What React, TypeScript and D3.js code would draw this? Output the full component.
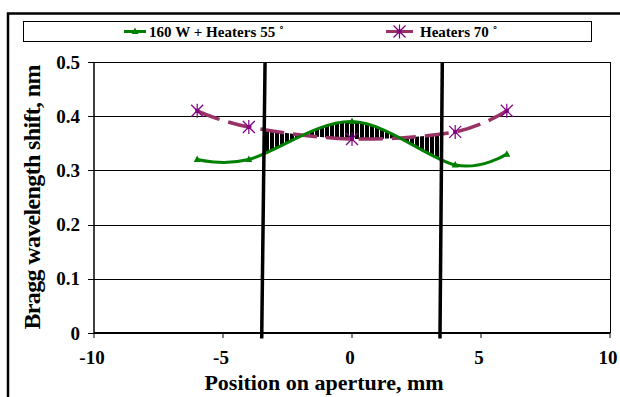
import React from "react";
import * as d3 from "d3";

const positions = [-6, -4, 0, 4, 6];
const green160W = [0.32, 0.32, 0.39, 0.31, 0.33];
const purpleHeaters70 = [0.41, 0.38, 0.358, 0.371, 0.41];
const xTicks = [-10, -5, 0, 5, 10];
const yTicks = [0, 0.1, 0.2, 0.3, 0.4, 0.5];
const apertureLeft = [{ x: -3.5, y: -0.01 }, { x: -3.37, y: 0.5 }];
const apertureRight = [{ x: 3.41, y: -0.01 }, { x: 3.5, y: 0.5 }];
const hatchRange = [-3.45, 3.38];
const seriesNames = ["160 W + Heaters 55 \u02DA", "Heaters 70 \u02DA"];

const W = 620, H = 397;
const PL = 94, PR = 610, PT = 62, PB = 333;
const FONT = "'Liberation Serif', 'Times New Roman', serif";
const GREEN = "#008000";
const PLUM = "#993366";
const MARK = "#800080";

export default function App() {
  const x = d3.scaleLinear().domain([-10, 10]).range([PL, PR]);
  const y = d3.scaleLinear().domain([0, 0.5]).range([PB, PT]);
  const curve = d3.curveCardinal.tension(0);
  const gData = positions.map((p, i) => ({ x: p, y: green160W[i] }));
  const pData = positions.map((p, i) => ({ x: p, y: purpleHeaters70[i] }));
  const line = d3.line<{ x: number; y: number }>().x(d => x(d.x)).y(d => y(d.y)).curve(curve);
  const straight = d3.line<{ x: number; y: number }>().x(d => x(d.x)).y(d => y(d.y));
  const area = d3
    .area<number>()
    .x(d => x(positions[d]))
    .y0(d => y(green160W[d]))
    .y1(d => y(purpleHeaters70[d]))
    .curve(curve);
  const idx = positions.map((_, i) => i);

  const tri = (cx: number, cy: number, key: string) => (
    <path key={key} d={`M${cx},${cy - 4}L${cx + 3.5},${cy + 2.5}L${cx - 3.5},${cy + 2.5}Z`} fill={GREEN} />
  );
  const star = (cx: number, cy: number, key: string) => (
    <g key={key} stroke={MARK} strokeWidth={1.2}>
      <line x1={cx - 6} y1={cy - 6} x2={cx + 6} y2={cy + 6} />
      <line x1={cx - 6} y1={cy + 6} x2={cx + 6} y2={cy - 6} />
      <line x1={cx} y1={cy - 7} x2={cx} y2={cy + 7} />
      <rect x={cx - 2} y={cy - 2} width={4} height={4} fill={MARK} stroke="none" />
    </g>
  );

  return (
    <svg width={W} height={H} style={{ position: "absolute", left: 0, top: 0, background: "#fff" }} fontFamily={FONT} fontWeight="bold">
      <defs>
        <pattern id="stripes" patternUnits="userSpaceOnUse" width={5} height={10}>
          <rect x={0} y={0} width={4} height={10} fill="#000" />
        </pattern>
        <clipPath id="hatchClip">
          <rect x={x(hatchRange[0])} y={PT} width={x(hatchRange[1]) - x(hatchRange[0])} height={PB - PT} />
        </clipPath>
      </defs>
      <rect x={0} y={0} width={W} height={H} fill="#fff" />
      {/* outer frame */}
      <rect x={8} y={13.5} width={W + 10} height={H + 10} fill="none" stroke="#000" strokeWidth={2.5} />
      {/* legend */}
      <rect x={23.5} y={21.5} width={568} height={20} fill="#fff" stroke="#000" strokeWidth={1} />
      <line x1={124} x2={146} y1={31.5} y2={31.5} stroke={GREEN} strokeWidth={3} />
      {tri(135, 31.5, "lt")}
      <text x={149} y={36.5} fontSize={15} textLength={135} lengthAdjust="spacing">{seriesNames[0]}</text>
      <line x1={386} x2={413} y1={31.5} y2={31.5} stroke={PLUM} strokeWidth={3} />
      {star(399.5, 31.5, "ls")}
      <text x={420} y={36.5} fontSize={15}>{seriesNames[1]}</text>

      {/* gridlines */}
      {yTicks.map(t => (
        <line key={"g" + t} x1={PL} x2={PR} y1={Math.round(y(t)) + 0.5} y2={Math.round(y(t)) + 0.5} stroke="#000" strokeWidth={1} />
      ))}
      <line x1={PR + 0.5} x2={PR + 0.5} y1={PT} y2={PB} stroke="#000" strokeWidth={1} />
      {/* y axis */}
      <line x1={PL} x2={PL} y1={PT} y2={PB} stroke="#000" strokeWidth={1.5} />
      {yTicks.map(t => (
        <g key={"yt" + t}>
          <line x1={PL - 6} x2={PL} y1={Math.round(y(t)) + 0.5} y2={Math.round(y(t)) + 0.5} stroke="#000" />
          <text x={80} y={y(t) + 6.5} fontSize={19} textAnchor="end">{t === 0 ? "0" : t.toFixed(1)}</text>
        </g>
      ))}
      {/* x axis */}
      <line x1={PL} x2={PR} y1={PB} y2={PB} stroke="#000" strokeWidth={2} />
      {xTicks.map(t => (
        <g key={"xt" + t}>
          <line x1={x(t)} x2={x(t)} y1={PB} y2={PB + 5} stroke="#000" />
          <text x={x(t) - 2} y={364} fontSize={19} textAnchor="middle">{t}</text>
        </g>
      ))}
      <text x={324} y={390} fontSize={22} textAnchor="middle">Position on aperture, mm</text>
      <text transform={`translate(40,197) rotate(-90)`} fontSize={24} textAnchor="middle" textLength={265} lengthAdjust="spacing">Bragg wavelength shift, nm</text>

      {/* hatching between curves */}
      <path d={area(idx) || ""} fill="url(#stripes)" clipPath="url(#hatchClip)" />
      {/* purple dashed */}
      <path d={line(pData) || ""} fill="none" stroke={PLUM} strokeWidth={3.5} strokeDasharray="24 9" />
      {pData.map((d, i) => star(x(d.x), y(d.y), "s" + i))}
      {/* green */}
      <path d={line(gData) || ""} fill="none" stroke={GREEN} strokeWidth={3} />
      {gData.map((d, i) => tri(x(d.x), y(d.y), "t" + i))}
      {/* aperture lines */}
      <path d={straight(apertureLeft) || ""} stroke="#000" strokeWidth={3.5} fill="none" />
      <path d={straight(apertureRight) || ""} stroke="#000" strokeWidth={3.5} fill="none" />
    </svg>
  );
}
